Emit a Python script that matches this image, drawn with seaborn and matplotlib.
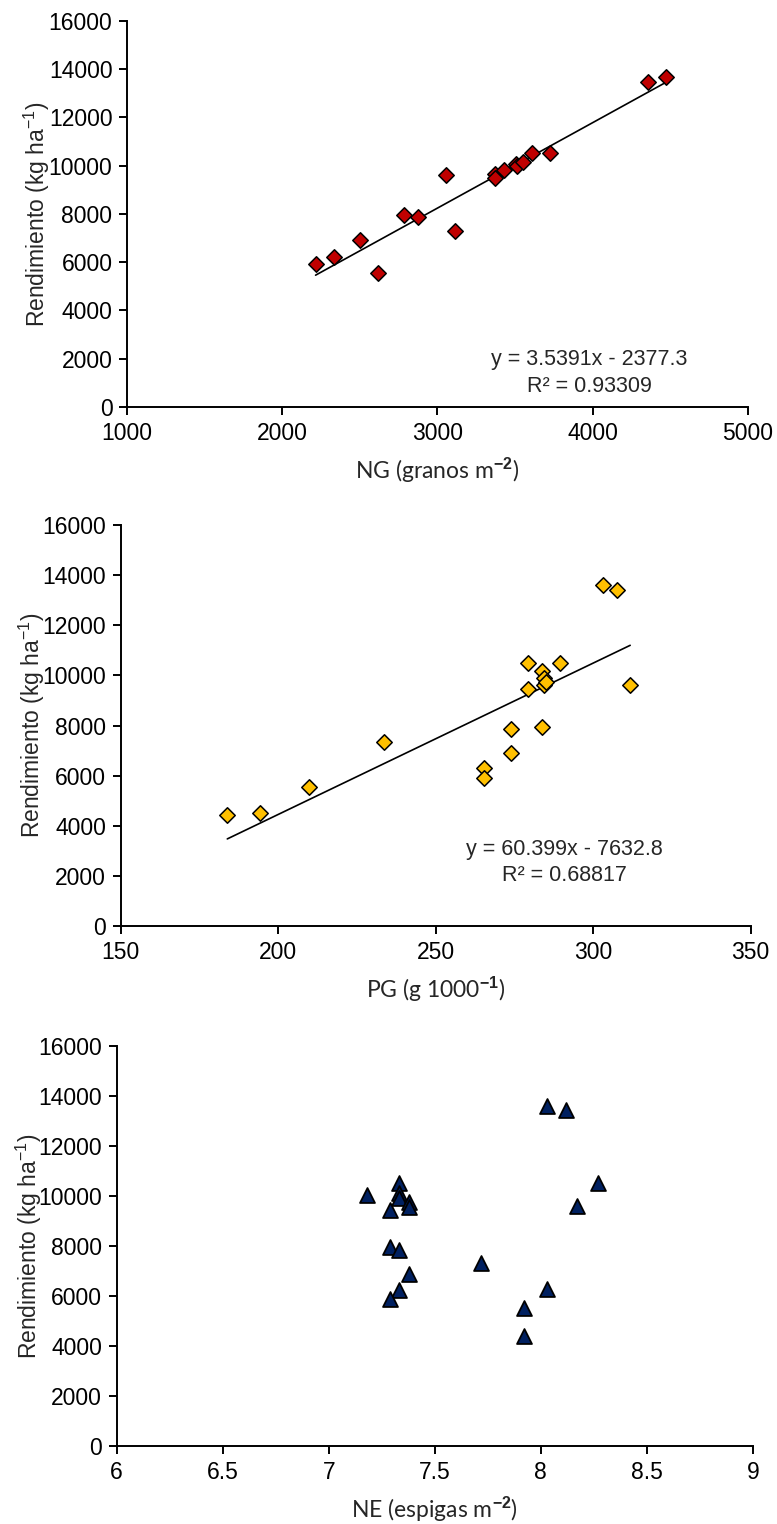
import matplotlib
matplotlib.use("Agg")
import matplotlib.pyplot as plt
import seaborn as sns
from matplotlib.ticker import FuncFormatter

# NG (granos m-2) vs rendimiento
ng = [2215, 2331, 2500, 2616, 2784, 2872, 3056, 3114, 3368, 3372, 3428,
      3503, 3510, 3554, 3612, 3728, 4355, 4471]
rend_ng = [5930, 6200, 6930, 5550, 7960, 7860, 9600, 7310, 9660, 9480, 9800,
           10070, 9990, 10130, 10540, 10510, 13460, 13650]
ng_slope, ng_intercept = 3.5391, -2377.3

# PG (g 1000-1) vs rendimiento
pg = [183.9, 194.4, 209.8, 233.7, 265.4, 265.4, 273.9, 273.9, 279.5, 279.5,
      283.7, 284.4, 284.4, 283.7, 289.4, 303.3, 307.6, 311.8, 285.0]
rend_pg = [4420, 4510, 5560, 7330, 6290, 5890, 7860, 6890, 10510, 9460,
           10180, 9880, 9620, 7950, 10510, 13610, 13420, 9630, 9750]
pg_slope, pg_intercept = 60.399, -7632.8

# NE (espigas m-2) vs rendimiento
ne = [7.18, 7.33, 7.33, 7.33, 7.38, 7.38, 7.29, 7.29, 7.33, 7.38, 7.33, 7.29,
      7.72, 8.03, 8.12, 8.27, 8.17, 8.03, 7.92, 7.92]
rend_ne = [10040, 10510, 10110, 9910, 9770, 9570, 9440, 7950, 7840, 6870,
           6240, 5870, 7310, 13610, 13440, 10510, 9610, 6270, 5530, 4400]

sns.set_style("ticks")
plt.rcParams["font.family"] = ["Liberation Sans", "DejaVu Sans"]
plt.rcParams["mathtext.fontset"] = "custom"
plt.rcParams["mathtext.rm"] = "Liberation Sans"
plt.rcParams["mathtext.it"] = "Liberation Sans:italic"
plt.rcParams["mathtext.bf"] = "Liberation Sans:bold"

FS = 16.5
YLABEL = r"Rendimiento (kg ha$^{\mathregular{-1}}$)"

fig = plt.figure(figsize=(7.77, 15.24), dpi=100)
ax1 = fig.add_axes([0.1634, 0.7329, 0.7992, 0.2535])
ax2 = fig.add_axes([0.1551, 0.3924, 0.8108, 0.2631])
ax3 = fig.add_axes([0.1501, 0.0512, 0.8188, 0.2625])


def style_axis(ax, xlim, xstep, xlabel, ylab_x):
    ax.set_xlim(*xlim)
    ax.set_ylim(0, 16000)
    ax.set_xticks([xlim[0] + i * xstep for i in range(int(round((xlim[1] - xlim[0]) / xstep)) + 1)])
    ax.set_yticks(range(0, 16001, 2000))
    ax.xaxis.set_major_formatter(FuncFormatter(lambda v, p: f"{v:g}"))
    sns.despine(ax=ax)
    for s in ["left", "bottom"]:
        ax.spines[s].set_linewidth(1.4)
        ax.spines[s].set_color("black")
    ax.tick_params(axis="both", direction="out", length=5.5, width=1.4,
                   colors="black", labelsize=FS)
    ax.tick_params(axis="x", pad=5)
    ax.tick_params(axis="y", pad=5)
    ax.set_xlabel(xlabel, fontsize=16.5, family=["Lato", "DejaVu Sans"], labelpad=8)
    ax.set_ylabel(YLABEL, fontsize=16.5)
    ax.yaxis.set_label_coords(ylab_x, 0.5)


# panel 1
sns.scatterplot(x=ng, y=rend_ng, marker="D", s=62, color="#C00000",
                edgecolor="black", linewidth=1.1, ax=ax1, zorder=3)
ng_line = [min(ng), max(ng)]
sns.lineplot(x=ng_line, y=[ng_slope * v + ng_intercept for v in ng_line],
             color="black", linewidth=1.2, ax=ax1, zorder=2)
style_axis(ax1, (1000, 5000), 1000, r"NG (granos m$^{\mathbf{-2}}$)", -0.121)
ax1.text(0.744, 0.122, "y = 3.5391x - 2377.3", transform=ax1.transAxes,
         ha="center", va="center", fontsize=15.5)
ax1.text(0.744, 0.053, "R² = 0.93309", transform=ax1.transAxes,
         ha="center", va="center", fontsize=15.5)

# panel 2
sns.scatterplot(x=pg, y=rend_pg, marker="D", s=62, color="#FFC000",
                edgecolor="black", linewidth=1.1, ax=ax2, zorder=3)
pg_line = [min(pg), max(pg)]
sns.lineplot(x=pg_line, y=[pg_slope * v + pg_intercept for v in pg_line],
             color="black", linewidth=1.2, ax=ax2, zorder=2)
style_axis(ax2, (150, 350), 50, r"PG (g 1000$^{\mathbf{-1}}$)", -0.117)
ax2.text(0.704, 0.19, "y = 60.399x - 7632.8", transform=ax2.transAxes,
         ha="center", va="center", fontsize=15.5)
ax2.text(0.704, 0.125, "R² = 0.68817", transform=ax2.transAxes,
         ha="center", va="center", fontsize=15.5)

# panel 3
sns.scatterplot(x=ne, y=rend_ne, marker="^", s=115, color="#002060",
                edgecolor="black", linewidth=1.3, ax=ax3, zorder=3)
style_axis(ax3, (6, 9), 0.5, r"NE (espigas m$^{\mathbf{-2}}$)", -0.114)

fig.savefig("out.png", dpi=100)
plt.close(fig)
